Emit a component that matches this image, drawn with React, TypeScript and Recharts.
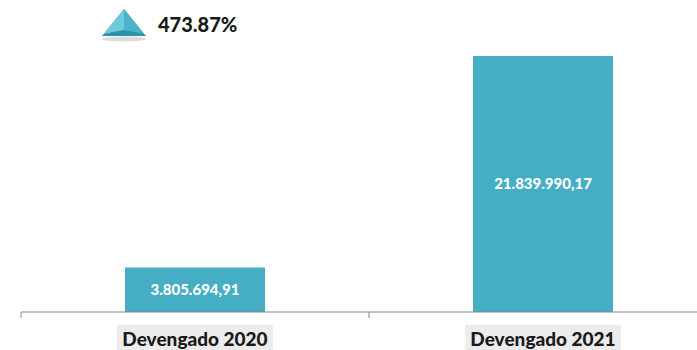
import React from 'react';
import { BarChart, Bar, XAxis, YAxis, LabelList, Customized } from 'recharts';

const categories = ['Devengado 2020', 'Devengado 2021'];
const values = [3805694.91, 21839990.17];
const valueLabels = ['3.805.694,91', '21.839.990,17'];
const growthLabel = '473.87%';

const data = categories.map((name, i) => ({ name, value: values[i], label: valueLabels[i] }));

const FONT = 'Lato, "Open Sans", sans-serif';
const BAR_COLOR = '#45aec4';

// eslint-disable-next-line @typescript-eslint/no-explicit-any
function CategoryTick(props: any) {
  const { x, y, payload } = props;
  const half = payload?.offset || 174;
  return (
    <g>
      <line x1={x - half} y1={y - 8} x2={x - half} y2={y - 2} stroke="#888" strokeWidth={1} />
      <rect x={x - 78} y={y + 5} width={156} height={30} fill="#ececec" />
      <text x={x} y={y + 26} textAnchor="middle" fontFamily={FONT} fontWeight={900} fontSize={19} fill="#1a1a1a">
        {payload.value}
      </text>
    </g>
  );
}

function GrowthBadge() {
  return (
    <g>
      <ellipse cx={124} cy={39} rx={22} ry={2.5} fill="#c4c4c4" opacity={0.6} />
      <polygon points="124,9 102,36 146,36" fill="#3ea6bc" />
      <polygon points="124,9 104,34 124,30" fill="#6fcadb" />
      <polygon points="124,9 124,30 144,34" fill="#4ab5c9" />
      <polygon points="104,34 124,30 144,34 146,36 102,36" fill="#2f93a8" />
      <text x={158} y={32} fontFamily={FONT} fontWeight={900} fontSize={20} fill="#1a1a1a">
        {growthLabel}
      </text>
    </g>
  );
}

export default function App() {
  return (
    <div style={{ position: 'fixed', left: 0, top: 0, width: 697, height: 350, overflow: 'hidden', background: '#fff' }}>
      <BarChart width={720} height={350} data={data} margin={{ top: 19, right: 3, bottom: 0, left: 21 }} barSize={140}>
        <YAxis hide domain={[0, 25000000]} />
        <XAxis
          dataKey="name"
          height={38}
          axisLine={{ stroke: '#888', strokeWidth: 1.2 }}
          tickLine={false}
          tick={<CategoryTick />}
          interval={0}
        />
        <Bar dataKey="value" fill={BAR_COLOR} isAnimationActive={false}>
          <LabelList dataKey="label" position="center" fill="#ffffff" fontFamily={FONT} fontWeight={900} fontSize={15} />
        </Bar>
        <Customized component={GrowthBadge} />
      </BarChart>
    </div>
  );
}
